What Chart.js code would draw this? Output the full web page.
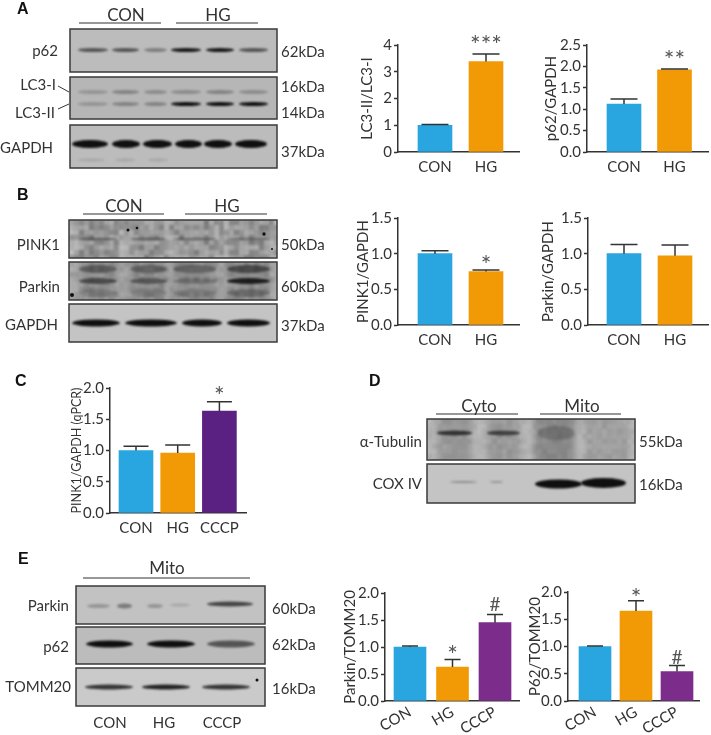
<!DOCTYPE html>
<html>
<head>
<meta charset="utf-8">
<script src="https://cdn.jsdelivr.net/npm/chart.js@4/dist/chart.umd.min.js"></script>
<style>
html,body{margin:0;padding:0;background:#fff;width:711px;height:735px;overflow:hidden}
#stage{position:relative;width:711px;height:735px}
#stage canvas{position:absolute}
.t{position:absolute;font-family:Lato,sans-serif;color:#333;white-space:nowrap;line-height:1;font-size:15px}
.p{font-family:"Liberation Sans",Arial,sans-serif;font-weight:bold;font-size:16px;color:#111}
</style>
</head>
<body>
<div id="stage"><canvas id="blots" width="711" height="735" style="left:0;top:0"></canvas></div>
<script>
// ---- chart data ----
const categories2 = ['CON', 'HG'];
const categories3 = ['CON', 'HG', 'CCCP'];
const colors2 = ['#29A6E0', '#F29A05'];
const colorsC = ['#29A6E0', '#F29A05', '#5A2182'];
const colorsE = ['#29A6E0', '#F29A05', '#7C2D8C'];

const lc3Values = [1.0, 3.38];
const lc3ErrTop = [1.03, 3.66];
const lc3Marks = ['', '***'];

const p62Values = [1.12, 1.92];
const p62ErrTop = [1.24, 1.94];
const p62Marks = ['', '**'];

const pink1Values = [1.0, 0.75];
const pink1ErrTop = [1.04, 0.77];
const pink1Marks = ['', '*'];

const parkinValues = [1.0, 0.97];
const parkinErrTop = [1.13, 1.12];
const parkinMarks = ['', ''];

const qpcrValues = [1.0, 0.96, 1.63];
const qpcrErrTop = [1.07, 1.09, 1.78];
const qpcrMarks = ['', '', '*'];

const mitoParkinValues = [1.0, 0.63, 1.45];
const mitoParkinErrTop = [1.02, 0.77, 1.60];
const mitoParkinMarks = ['', '*', '#'];

const mitoP62Values = [1.0, 1.65, 0.54];
const mitoP62ErrTop = [1.01, 1.84, 0.65];
const mitoP62Marks = ['', '*', '#'];

// ---- bar charts ----
const INK = '#333';
const errPlugin = {
  id: 'errs',
  afterDatasetsDraw(chart, a, o) {
    const {ctx, scales: {x, y}} = chart;
    ctx.save();
    ctx.strokeStyle = INK; ctx.lineWidth = 1.5;
    o.top.forEach((v, i) => {
      const px = x.getPixelForValue(i + 1), t = y.getPixelForValue(v), b = y.getPixelForValue(o.values[i]);
      ctx.beginPath();
      ctx.moveTo(px, b); ctx.lineTo(px, t);
      ctx.moveTo(px - o.cap / 2, t); ctx.lineTo(px + o.cap / 2, t);
      ctx.stroke();
      const m = o.marks[i];
      if (m) {
        ctx.font = (m === '#' ? '19px' : '25px') + ' Lato';
        ctx.fillStyle = '#555'; ctx.textAlign = 'center'; ctx.textBaseline = 'alphabetic';
        const mt = ctx.measureText(m);
        const yc = t - o.markGap;
        ctx.fillText(m, px, yc + (mt.actualBoundingBoxAscent - mt.actualBoundingBoxDescent) / 2);
      }
    });
    ctx.restore();
  }
};

function barChart(cfg) {
  const stage = document.getElementById('stage');
  const c = document.createElement('canvas');
  const lh = cfg.titleSize * 1.2;
  const left = Math.round(cfg.titleX - lh / 2);
  const padTop = 30, xH = cfg.xH;
  const W = cfg.right - left, H = padTop + (cfg.bottom - cfg.top) + xH;
  c.width = W; c.height = H;
  c.style.left = left + 'px'; c.style.top = (cfg.top - padTop) + 'px';
  c.style.width = W + 'px'; c.style.height = H + 'px';
  stage.appendChild(c);
  const sp = cfg.spacing;
  const xMin = 1 - (cfg.firstCenter - cfg.axisX) / sp;
  new Chart(c, {
    type: 'bar',
    data: {
      labels: cfg.cats,
      datasets: [{
        data: cfg.values.map((v, i) => ({x: i + 1, y: v})),
        backgroundColor: cfg.colors, borderWidth: 0, barThickness: cfg.barW
      }]
    },
    options: {
      responsive: false, maintainAspectRatio: false, animation: false, devicePixelRatio: 1,
      layout: {padding: {top: padTop, left: 0, right: 0, bottom: 0}},
      plugins: {legend: {display: false}, tooltip: {enabled: false},
        errs: {top: cfg.err, values: cfg.values, marks: cfg.marks, cap: cfg.cap, markGap: cfg.markGap}},
      scales: {
        x: {
          type: 'linear', offset: false, min: xMin, max: xMin + (cfg.right - cfg.axisX) / sp,
          afterBuildTicks: s => { s.ticks = cfg.cats.map((_, i) => ({value: i + 1})); },
          afterFit: s => { s.height = xH; s.paddingLeft = 0; s.paddingRight = 0; },
          grid: {display: false, drawTicks: false},
          border: {color: INK, width: 1.5},
          ticks: {
            autoSkip: false, color: INK, font: {family: 'Lato', size: cfg.tickSize},
            padding: cfg.xPad, minRotation: cfg.rot || 0, maxRotation: cfg.rot || 0,
            callback: v => cfg.cats[v - 1]
          }
        },
        y: {
          min: 0, max: cfg.max,
          afterFit: s => { s.width = cfg.axisX - left; },
          grid: {display: true, drawOnChartArea: false, drawTicks: true, tickLength: 4, tickColor: INK, tickWidth: 1.5},
          border: {color: INK, width: 1.5},
          ticks: {stepSize: cfg.step, color: INK, font: {family: 'Lato', size: cfg.ySize || cfg.tickSize}, padding: 2,
            callback: v => cfg.dec ? v.toFixed(cfg.dec) : String(v)},
          title: {display: true, text: cfg.title, color: INK, padding: 0, font: {family: 'Lato', size: cfg.titleSize}}
        }
      }
    },
    plugins: [errPlugin]
  });
}

function buildCharts() {
  barChart({title: 'LC3-II/LC3-I', cats: categories2, values: lc3Values, err: lc3ErrTop, marks: lc3Marks, colors: colors2,
    titleX: 367, titleSize: 15, axisX: 398, right: 520, top: 45, bottom: 152, max: 4, step: 1, dec: 0,
    firstCenter: 435, spacing: 51, barW: 34, cap: 27, markGap: 16, tickSize: 15, xH: 28, xPad: 6});
  barChart({title: 'p62/GAPDH', cats: categories2, values: p62Values, err: p62ErrTop, marks: p62Marks, colors: colors2,
    titleX: 551, titleSize: 15, axisX: 587, right: 709, top: 45, bottom: 152, max: 2.5, step: 0.5, dec: 1,
    firstCenter: 624, spacing: 50.5, barW: 34, cap: 27, markGap: 15, tickSize: 15, xH: 28, xPad: 6});
  barChart({title: 'PINK1/GAPDH', cats: categories2, values: pink1Values, err: pink1ErrTop, marks: pink1Marks, colors: colors2,
    titleX: 363, titleSize: 15, axisX: 398, right: 520, top: 218, bottom: 325, max: 1.5, step: 0.5, dec: 1,
    firstCenter: 435, spacing: 51, barW: 34, cap: 27, markGap: 12, tickSize: 15, xH: 28, xPad: 6});
  barChart({title: 'Parkin/GAPDH', cats: categories2, values: parkinValues, err: parkinErrTop, marks: parkinMarks, colors: colors2,
    titleX: 548, titleSize: 15, axisX: 588, right: 709, top: 218, bottom: 325, max: 1.5, step: 0.5, dec: 1,
    firstCenter: 624, spacing: 51, barW: 34, cap: 27, markGap: 12, tickSize: 15, xH: 28, xPad: 6});
  barChart({title: 'PINK1/GAPDH (qPCR)', cats: categories3, values: qpcrValues, err: qpcrErrTop, marks: qpcrMarks, colors: colorsC,
    titleX: 76, titleSize: 12.5, axisX: 110, right: 247, top: 388, bottom: 513, max: 2, step: 0.5, dec: 1,
    firstCenter: 136, spacing: 41.7, barW: 34, cap: 25, markGap: 12, tickSize: 15, xH: 28, xPad: 6});
  barChart({title: 'Parkin/TOMM20', cats: categories3, values: mitoParkinValues, err: mitoParkinErrTop, marks: mitoParkinMarks, colors: colorsE,
    titleX: 350, titleSize: 15, axisX: 385, right: 520, top: 593, bottom: 701, max: 2, step: 0.5, dec: 1,
    firstCenter: 410, spacing: 42.5, barW: 32, cap: 16, markGap: 11, tickSize: 15, xH: 34, xPad: 2, rot: 30});
  barChart({title: 'P62/TOMM20', cats: categories3, values: mitoP62Values, err: mitoP62ErrTop, marks: mitoP62Marks, colors: colorsE,
    titleX: 535, titleSize: 15, axisX: 568, right: 700, top: 592, bottom: 701, max: 2, step: 0.5, dec: 1,
    firstCenter: 595, spacing: 41, barW: 32, cap: 16, markGap: 9, tickSize: 15, xH: 34, xPad: 2, rot: 30});
}

// ---- page text ----
const stageEl = document.getElementById('stage');
function txt(s, x, y, align, size, cls) {
  const d = document.createElement('div');
  d.className = 't' + (cls ? ' ' + cls : '');
  d.textContent = s;
  if (size) d.style.fontSize = size + 'px';
  d.style.top = y + 'px';
  d.style.left = x + 'px';
  const tx = align === 'c' ? '-50%' : align === 'r' ? '-100%' : '0';
  d.style.transform = 'translate(' + tx + ',-50%)';
  stageEl.appendChild(d);
}
[['A',17,9],['B',17,195],['C',15,381],['D',369,381],['E',18,559]].forEach(p => txt(p[0], p[1], p[2], 'l', 0, 'p'));
[['CON',126,14],['HG',218,14],['CON',124,205],['HG',227,205],['Cyto',479,405],['Mito',582,405],['Mito',167,567]]
  .forEach(p => txt(p[0], p[1], p[2], 'c', 17));
[['p62',58,50],['LC3-I',56,84],['LC3-II',55,112],['GAPDH',53,147],['PINK1',60,244],['Parkin',60,286],['GAPDH',58,324],
 ['α-Tubulin',422,441],['COX IV',422,483],['Parkin',69,605],['p62',69,646],['TOMM20',71,686]]
  .forEach(p => txt(p[0], p[1], p[2], 'r'));
[['62kDa',281,51],['16kDa',281,86],['14kDa',281,112],['37kDa',281,151],['50kDa',281,244],['60kDa',281,286],['37kDa',281,325],
 ['55kDa',639,441],['16kDa',639,484],['60kDa',272,608],['62kDa',272,644],['16kDa',272,688]]
  .forEach(p => txt(p[0], p[1], p[2], 'l'));
[['CON',110,722],['HG',164,722],['CCCP',222,722]].forEach(p => txt(p[0], p[1], p[2], 'c'));

// ---- western blot photographs (picture texture, not chart marks) ----
const g = document.getElementById('blots').getContext('2d');
function rule(x0, x1, y) { g.strokeStyle = '#333'; g.lineWidth = 1.2; g.beginPath(); g.moveTo(x0, y); g.lineTo(x1, y); g.stroke(); }
[[79,161,23],[176,258,23],[83,164,214],[185,267,214],[436,518,414],[540,621,414],[83,250,578]].forEach(r => rule(r[0], r[1], r[2]));
g.strokeStyle = '#333'; g.lineWidth = 1;
g.beginPath(); g.moveTo(58,86); g.lineTo(69,92); g.moveTo(58,109); g.lineTo(69,104); g.stroke();

function blot(b) {
  const [x0, y0, x1, y1] = b.box;
  g.save();
  g.beginPath(); g.rect(x0, y0, x1 - x0, y1 - y0); g.clip();
  g.fillStyle = b.bg; g.fillRect(x0, y0, x1 - x0, y1 - y0);
  (b.lanes || []).forEach(l => {
    g.filter = 'blur(3px)'; g.fillStyle = 'rgba(40,40,40,' + l[2] + ')';
    g.fillRect(l[0], y0 - 6, l[1] - l[0], y1 - y0 + 12);
  });
  (b.mottle || 0) && (function () {
    g.filter = 'blur(1.2px)';
    for (let px = x0; px < x1; px += 5) for (let py = y0; py < y1; py += 5) {
      const h = Math.abs(Math.sin(px * 12.9898 + py * 78.233) * 43758.5453) % 1;
      g.fillStyle = (h > .5 ? 'rgba(30,30,30,' : 'rgba(235,235,235,') + (Math.abs(h - .5) * b.mottle) + ')';
      g.fillRect(px, py, 5, 5);
    }
  })();
  (b.bands || []).forEach(k => {
    g.filter = 'blur(' + (k[4] || 1.3) + 'px)';
    g.fillStyle = 'rgba(15,15,15,' + k[3] + ')';
    g.beginPath();
    g.ellipse((k[0] + k[1]) / 2, k[2][0], (k[1] - k[0]) / 2, k[2][1] / 2, 0, 0, Math.PI * 2);
    g.fill();
  });
  g.filter = 'none';
  (b.specks || []).forEach(s => {
    g.fillStyle = '#111'; g.beginPath(); g.arc(s[0], s[1], s[2], 0, Math.PI * 2); g.fill();
  });
  g.restore();
  g.strokeStyle = '#3a3a3a'; g.lineWidth = 1.5;
  g.strokeRect(x0, y0, x1 - x0, y1 - y0);
}
const L6 = [[78,108],[112,139],[144,167],[171,201],[206,234],[239,268]];
const row = (xs, y, t, al) => xs.map((x, i) => [x[0], x[1], [y, t], al[i]]);
blot({box:[70,29,277,72], bg:'#bcbcbc', bands: row(L6, 50, 4, [.6,.6,.35,.95,.95,.6])});
blot({box:[70,77,277,119], bg:'#b6b6b6', bands: row(L6, 92, 4, [.2,.3,.25,.25,.3,.25]).concat(row(L6, 104, 4, [.2,.3,.3,1,1,1]))});
blot({box:[70,125,277,168], bg:'#bcbcbc', bands: row([[72,108],[112,140],[143,172],[175,202],[204,232],[235,267]], 144, 8, [1,1,1,1,1,1])
  .concat(row([[78,105],[115,135],[148,168]], 160, 3, [.12,.12,.12]))});
const LB = [[79,117],[130,167],[173,217],[227,270]];
blot({box:[69,220,277,258], bg:'#b0b0b0', mottle:.5, lanes: LB.map(l => [l[0], l[1], .16]),
  bands: row(LB, 239, 3, [.4,.4,.35,.3]), specks: [[128,230,1.5],[137,228,1.3],[264,234,1.7],[272,249,1]]});
blot({box:[69,262,277,300], bg:'#a8a8a8', mottle:.25, lanes: LB.map(l => [l[0], l[1], .2]),
  bands: row(LB, 269, 8, [.4,.35,.35,.55]).concat(row(LB, 281, 6, [.55,.45,.25,.9])).concat(row(LB, 293, 8, [.15,.15,.15,.3])),
  specks: [[72,295,2]]});
blot({box:[69,304,277,342], bg:'#c4c4c4', bands: row([[72,120],[125,177],[182,222],[227,270]], 323, 7, [1,1,1,1])});
blot({box:[427,419,635,460], bg:'#b8b8b8', mottle:.15, lanes: [[437,472,.2],[487,520,.2],[534,575,.32],[585,630,.15]],
  bands: row([[437,472],[487,520]], 433, 5, [.75,.65]).concat(row([[538,575]], 433, 14, [.2]))});
blot({box:[427,464,635,503], bg:'#c4c4c4', bands: [[450,477,[482,2],.3],[490,503,[482,2],.25],[535,582,[484,9],1,.9],[581,626,[483,10],1,.9]]});
blot({box:[76,586,265,624], bg:'#c2c2c2', bands: [[87,110,[606,4],.25],[117,132,[606,5],.4],[147,163,[606,4],.25],[170,190,[605,3],.15],[207,253,[604,5],.7]]});
blot({box:[76,627,265,664], bg:'#bcbcbc', bands: row([[86,133],[147,195],[207,255]], 644, 7, [1,1,.6])});
blot({box:[76,668,265,706], bg:'#cacaca', bands: row([[85,133],[142,190],[202,250]], 687, 5, [.8,.9,.8]), specks: [[257,680,1.5]]});

buildCharts();
</script>
</body>
</html>
